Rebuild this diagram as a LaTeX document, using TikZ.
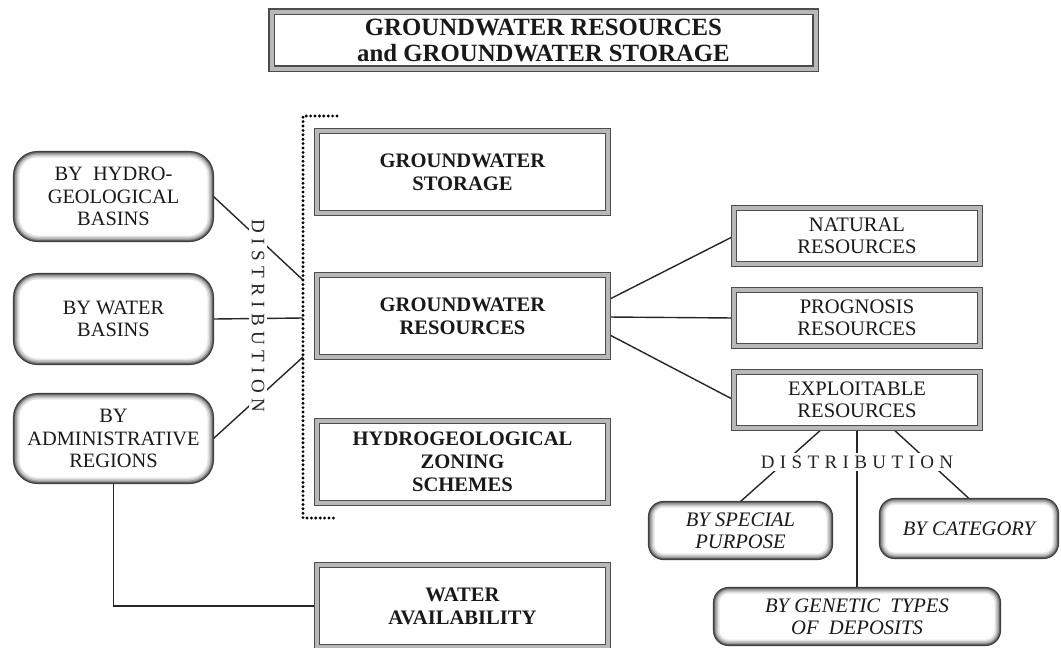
\documentclass[tikz,border=0pt]{standalone}
\usepackage{fontspec}
\setmainfont{Liberation Serif}
\usetikzlibrary{calc}
\pgfdeclarelayer{background}
\pgfsetlayers{background,main}
% spacing between the letters of the "DISTRIBUTION" labels
\newcommand\lsp{\kern5.4pt}
\newcommand\distword{D\lsp I\lsp S\lsp T\lsp R\lsp I\lsp B\lsp U\lsp T\lsp I\lsp O\lsp N}

\begin{document}
\begin{tikzpicture}[x=1pt,y=-1pt,
  sqbox/.style={draw=black!70, line width=1.6pt, double=black!28, double distance=3.4pt,
    fill=white, align=center, inner sep=0pt, outer sep=0pt, text=black!90},
  boldtxt/.style={font=\fontsize{20.6}{23}\selectfont\bfseries},
  plaintxt/.style={font=\fontsize{20.6}{22}\selectfont},
  italtxt/.style={font=\fontsize{20.6}{22}\selectfont\itshape},
  rbox/.style={draw=black!75, line width=1.1pt, fill=white, rounded corners=#1,
    align=center, inner sep=0pt, outer sep=0pt, text=black!90,
    path picture={\foreach \w/\c in {12/10,9/22,6/38,3.2/60}{
      \draw[line width=\w pt, black!\c, rounded corners=#1]
        (path picture bounding box.south west) rectangle (path picture bounding box.north east);}}},
  link/.style={draw=black!85, line width=1.4pt},
  bracket/.style={draw=black, line width=3.2pt, line cap=round, dash pattern=on 0pt off 4.4pt},
  distlabel/.style={fill=white, inner sep=2.5pt, font=\fontsize{19}{19}\selectfont, text=black!85}
]
\useasboundingbox (0,0) rectangle (1061,648);

% title
\node[sqbox, line width=1.8pt, double distance=4pt, minimum width=544pt, minimum height=57pt,
  font=\fontsize{24.8}{26}\selectfont\bfseries] (title) at (543.5,40)
  {GROUNDWATER RESOURCES\\and GROUNDWATER STORAGE};

% central column
\node[sqbox, boldtxt, minimum width=291pt, minimum height=82pt] (storage) at (462.5,172) {GROUNDWATER\\STORAGE};
\node[sqbox, boldtxt, minimum width=291pt, minimum height=82pt] (resources) at (462.5,316) {GROUNDWATER\\RESOURCES};
\node[sqbox, boldtxt, minimum width=291pt, minimum height=82pt] (zoning) at (462.5,462) {HYDROGEOLOGICAL\\ZONING\\SCHEMES};
\node[sqbox, boldtxt, minimum width=291pt, minimum height=82pt] (avail) at (462.5,606) {WATER\\AVAILABILITY};

% kinds of resources
\node[sqbox, plaintxt, minimum width=246pt, minimum height=56pt] (natural) at (857,236) {NATURAL\\RESOURCES};
\node[sqbox, plaintxt, minimum width=246pt, minimum height=56pt] (prognosis) at (857,318) {PROGNOSIS\\RESOURCES};
\node[sqbox, plaintxt, minimum width=246pt, minimum height=56pt] (exploit) at (857,400) {EXPLOITABLE\\RESOURCES};

% territorial distribution
\node[rbox=24pt, font=\fontsize{20.4}{22.5}\selectfont, minimum width=200pt, minimum height=90pt] (hydro) at (113.5,196.5) {BY\ \ HYDRO-\\GEOLOGICAL\\BASINS};
\node[rbox=24pt, font=\fontsize{20.4}{22.5}\selectfont, minimum width=200pt, minimum height=91pt] (wbasins) at (113.5,319) {BY WATER\\BASINS};
\node[rbox=24pt, font=\fontsize{20.4}{22.5}\selectfont, minimum width=200pt, minimum height=90pt] (admin) at (113.5,438.5) {BY\\ADMINISTRATIVE\\REGIONS};

% distribution of exploitable resources
\node[rbox=15pt, italtxt, minimum width=184pt, minimum height=58pt] (special) at (740.5,530.5) {BY SPECIAL\\PURPOSE};
\node[rbox=15pt, italtxt, minimum width=179pt, minimum height=60pt] (category) at (969,528.5) {BY CATEGORY};
\node[rbox=15pt, italtxt, minimum width=287pt, minimum height=58pt] (genetic) at (857,616.5) {BY GENETIC\ \ TYPES\\OF\ \ DEPOSITS};

% dotted bracket round the central group
\coordinate (btop) at (337,116);
\coordinate (bbot) at (337,518);
\coordinate (d1) at (303,280);
\coordinate (d2) at (303,318);
\coordinate (d3) at (303,357);
\draw[bracket] (btop) -- (303,116) -- (303,518) -- (bbot);

\begin{pgfonlayer}{background}
  \draw[link] (hydro.east) -- (d1);
  \draw[link] (wbasins.east) -- (d2);
  \draw[link] (admin.east) -- (d3);
  \draw[link] (admin.south) |- (avail.west);
  \draw[link] ($(resources.east)+(0,-16)$) -- (natural.west);
  \draw[link] ($(resources.east)+(0,1)$) -- (prognosis.west);
  \draw[link] ($(resources.east)+(0,18)$) -- (exploit.west);
  \draw[link] ($(exploit.south)+(-34,0)$) -- (special.north);
  \draw[link] (exploit.south) -- (genetic.north);
  \draw[link] ($(exploit.south)+(35,0)$) -- (category.north);
\end{pgfonlayer}

\node[distlabel, rotate=-90] (distL) at (258,316) {\distword};
\node[distlabel] (distR) at (857,462) {\distword};
\end{tikzpicture}
\end{document}
